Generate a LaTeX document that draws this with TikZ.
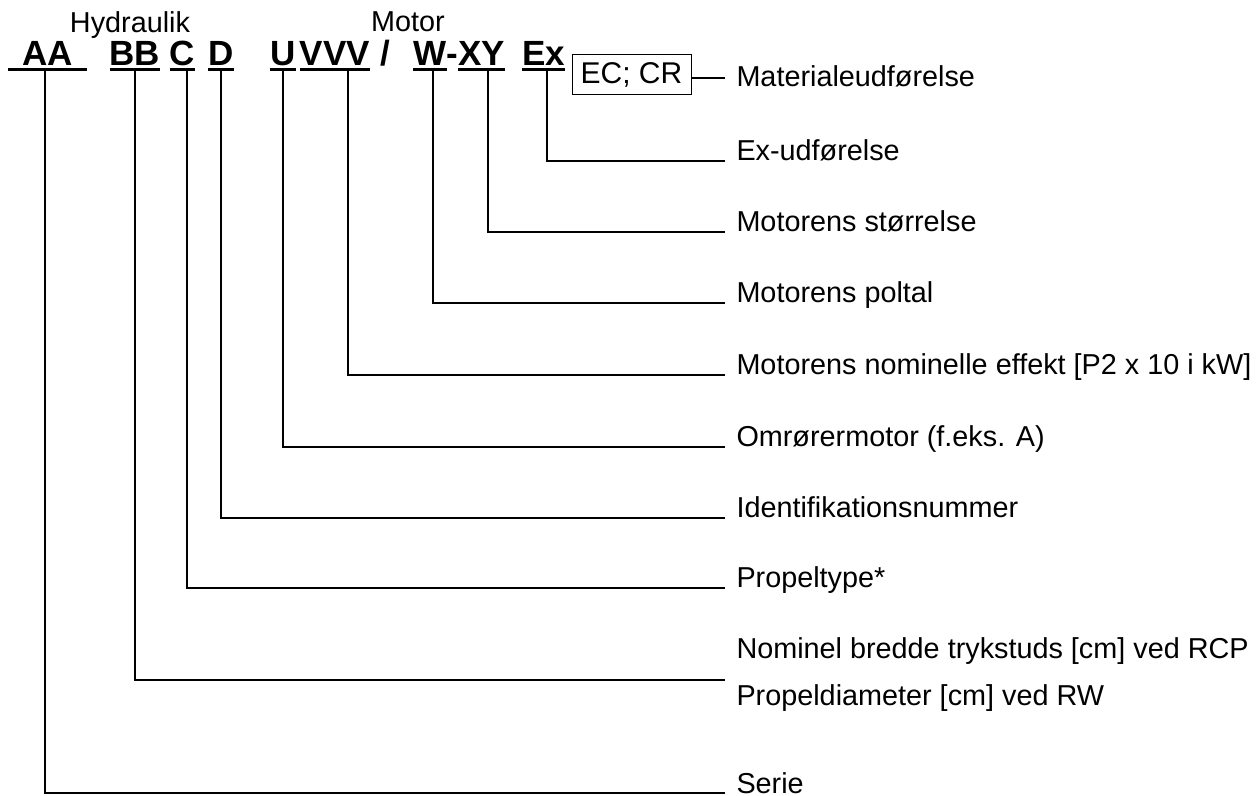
\documentclass[tikz,border=0pt]{standalone}
\usepackage{fontspec}
\setmainfont{Liberation Sans}
\begin{document}
\begin{tikzpicture}[x=.5pt,y=-.5pt,
  code/.style={inner xsep=0pt,inner ysep=1.75pt,outer sep=0pt,text depth=0pt,anchor=base,font=\bfseries\fontsize{17.5}{21}\selectfont},
  head/.style={inner sep=0pt,outer sep=0pt,anchor=base,font=\fontsize{14.4}{17.3}\selectfont},
  lbl/.style={inner xsep=5.75pt,inner ysep=0pt,outer sep=0pt,anchor=base west,font=\fontsize{14.4}{17.3}\selectfont},
  ul/.style={line width=1.4pt},
  conn/.style={line width=0.95pt}]
\path[use as bounding box] (0,0) rectangle (1259,796);
\node[head] (hyd) at (130,33) {Hydraulik};
\node[head] (mot) at (408,32) {Motor};
% type key
\node[code,inner xsep=7.1pt] (aa) at (47.5,66) {AA};
\node[code] (bb) at (135,66) {BB};
\node[code] (c) at (182.5,66) {C};
\node[code] (d) at (221,66) {D};
\node[code] (u) at (283,66) {U};
\node[code] (vvv) at (335,66) {VVV};
\node[code,inner ysep=0pt] (slash) at (385,66) {/};
\node[code] (w) at (430,66) {W};
\node[code,inner ysep=0pt] (hyph) at (452,66) {-};
\node[code] (xy) at (481.5,66) {XY};
\node[code] (ex) at (543.5,66) {Ex};
\node[draw,line width=.5pt,inner sep=0pt,outer sep=0pt,minimum width=59.5pt,minimum height=20pt,font=\fontsize{15}{18}\selectfont] (mat) at (631.5,75) {EC; CR};
\draw[ul] (aa.south west) -- (aa.south east);
\draw[ul] (bb.south west) -- (bb.south east);
\draw[ul] (c.south west) -- (c.south east);
\draw[ul] (d.south west) -- (d.south east);
\draw[ul] (u.south west) -- (u.south east);
\draw[ul] (vvv.south west) -- (vvv.south east);
\draw[ul] (w.south west) -- (w.south east);
\draw[ul] (xy.south west) -- (xy.south east);
\draw[ul] (ex.south west) -- (ex.south east);
% meanings
\node[lbl] (lmat) at (725,87) {Materialeudførelse};
\node[lbl] (lex) at (725,161) {Ex-udførelse};
\node[lbl] (lxy) at (725,232) {Motorens størrelse};
\node[lbl] (lw) at (725,303) {Motorens poltal};
\node[lbl] (lvvv) at (725,375) {Motorens nominelle effekt [P2 x 10 i kW]};
\node[lbl] (lu) at (725,447) {Omrørermotor (f.eks. A)};
\node[lbl] (ld) at (725,518) {Identifikationsnummer};
\node[lbl] (lc) at (725,588) {Propeltype*};
\node[lbl] (lbb) at (725,658) {Nominel bredde trykstuds [cm] ved RCP};
\node[lbl] (lbb2) at (725,705) {Propeldiameter [cm] ved RW};
\node[lbl] (laa) at (725,793) {Serie};
\draw[conn] ([yshift=-1.5pt]mat.east) -- ([yshift=4.5pt]lmat.base west);
\draw[conn] ([xshift=1.75pt]ex.south) |- (lex.base west);
\draw[conn] ([xshift=3.25pt]xy.south) |- (lxy.base west);
\draw[conn] ([xshift=1.5pt]w.south) |- (lw.base west);
\draw[conn] ([xshift=6.5pt]vvv.south) |- (lvvv.base west);
\draw[conn] (u.south) |- (lu.base west);
\draw[conn] (d.south) |- (ld.base west);
\draw[conn] ([xshift=2.25pt]c.south) |- (lc.base west);
\draw[conn] (bb.south) |- ([yshift=-11pt]lbb.base west);
\draw[conn] ([xshift=-1.25pt]aa.south) |- (laa.base west);
\end{tikzpicture}
\end{document}
